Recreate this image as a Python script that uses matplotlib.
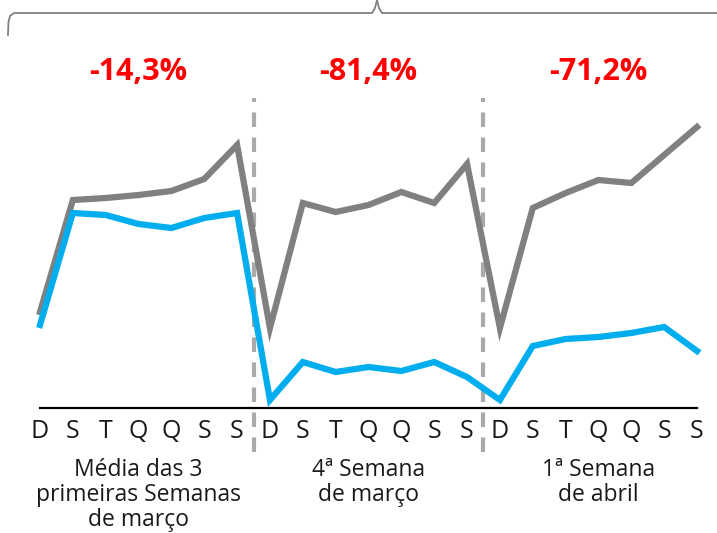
import matplotlib
matplotlib.use("Agg")
import matplotlib.pyplot as plt
from matplotlib.lines import Line2D

# values (relative units above the baseline)
dias = ["D", "S", "T", "Q", "Q", "S", "S"] * 3
cinza = [96, 208, 210, 213, 217, 229, 263,
         80, 205, 196, 203, 216, 205, 244,
         80, 200, 215, 228, 225, 253, 281]
azul = [83, 195, 193, 184, 180, 190, 195,
        8, 46, 36, 41, 37, 46, 31,
        8, 62, 69, 71, 75, 81, 57]
variacao = ["-14,3%", "-81,4%", "-71,2%"]
grupos = ["Média das 3\nprimeiras Semanas\nde março",
          "4ª Semana\nde março",
          "1ª Semana\nde abril"]

plt.rcParams['font.family'] = ['Open Sans', 'DejaVu Sans']

W, H = 717, 533
fig = plt.figure(figsize=(W / 100, H / 100), dpi=100)
# axes: x 0..20 -> px 40..697, y 0..300 -> px 408..108
ax = fig.add_axes([40 / W, (H - 408) / H, 657 / W, 300 / H])
ax.set_xlim(0, len(dias) - 1)
ax.set_ylim(0, 300)

x = list(range(len(dias)))
ax.plot(x, cinza, color="#808080", lw=4.5, solid_joinstyle="miter", clip_on=False, zorder=3)
ax.plot(x, azul, color="#00AEEF", lw=4.5, solid_joinstyle="miter", clip_on=False, zorder=3)

for xv in (6.5, 13.5):
    ax.axvline(xv, ymin=-44 / 300, ymax=310 / 300, color="#AAAAAA", lw=3,
               dashes=(3.5, 2.5), clip_on=False, zorder=2)

for s in ["top", "right", "left"]:
    ax.spines[s].set_visible(False)
ax.spines["bottom"].set_linewidth(1.6)
ax.spines["bottom"].set_color("#000000")
ax.set_yticks([])
ax.set_xticks(x)
ax.set_xticklabels(dias, fontsize=18, color="#1a1a1a")
ax.tick_params(axis="x", length=0, pad=8)

centros = [3, 10, 17]
for c, v, g in zip(centros, variacao, grupos):
    ax.text(c, 336, v, ha="center", va="center", fontsize=22,
            fontweight="bold", color="#FF0000")
    ax.text(c, -50, g, ha="center", va="top", fontsize=16.5,
            color="#1a1a1a", linespacing=1.05)

# brace on top
bx = [8, 8.5, 10, 14, 372, 375, 377, 379, 382, 717]
by = [35, 22, 16, 13, 13, 8, 0, 8, 13, 13]
fig.add_artist(Line2D([p / W for p in bx], [1 - p / H for p in by],
                      transform=fig.transFigure, color="#808080", lw=1.3))

fig.savefig("out.png", dpi=100)
